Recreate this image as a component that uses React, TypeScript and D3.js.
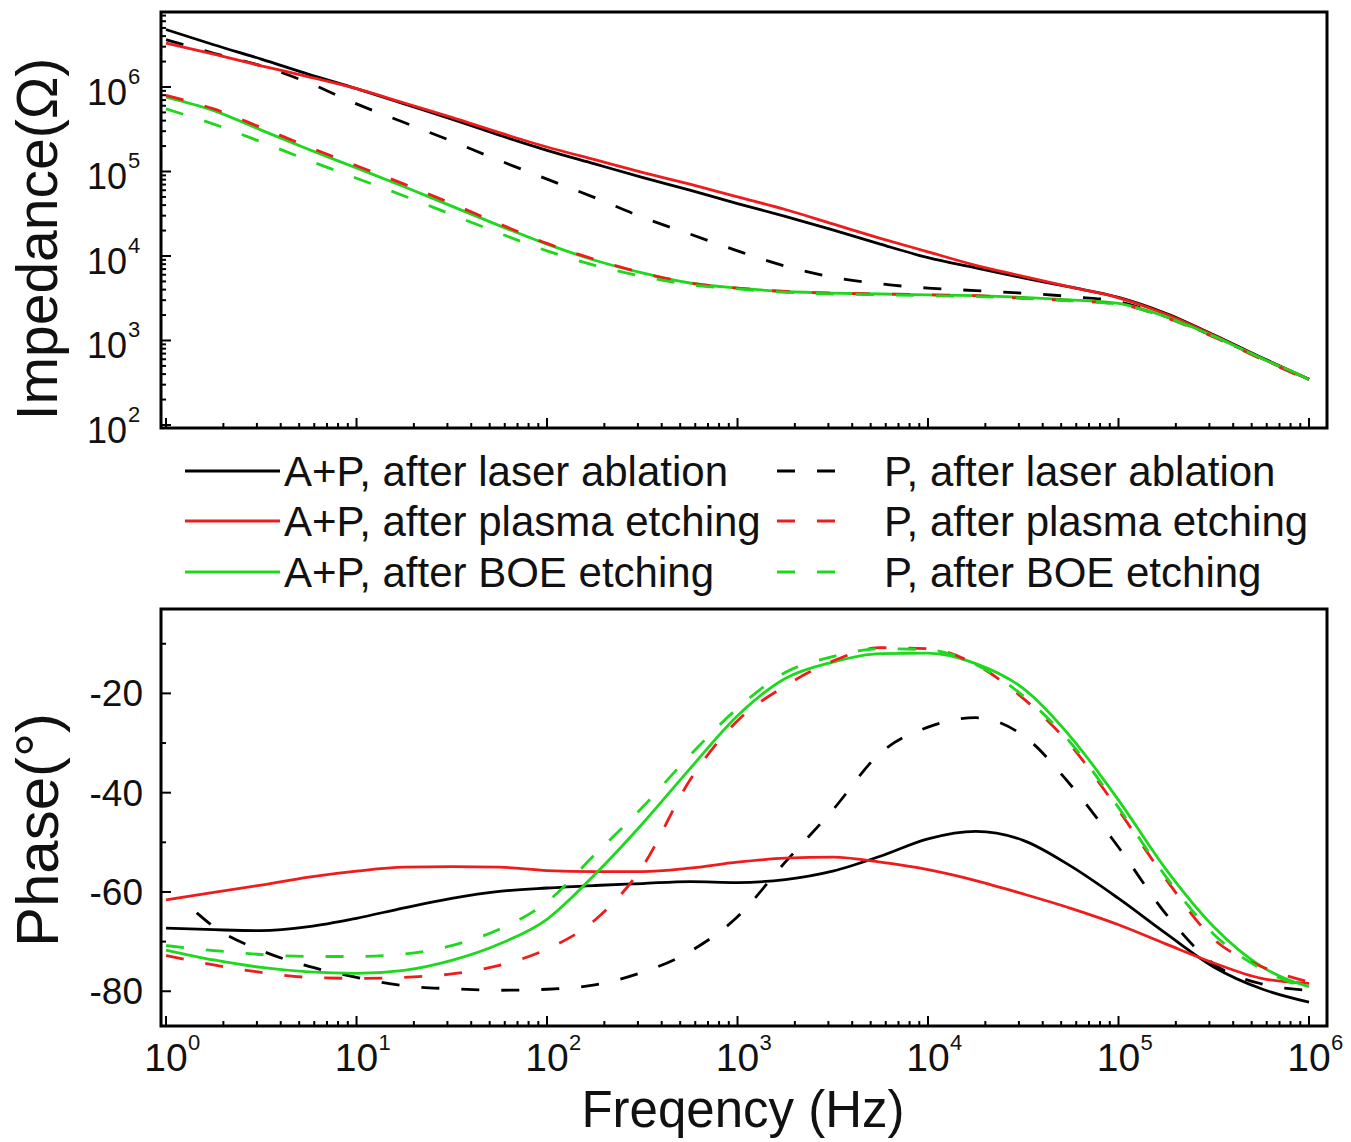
import React from "react";
import * as d3 from "d3";

// ---------- data ----------
const FREQ = [1, 1.78, 3.16, 5.62, 10, 17.8, 31.6, 56.2, 100, 178, 316, 562, 1000, 1780, 3160, 5620, 1e4, 1.78e4, 3.16e4, 5.62e4, 1e5, 1.78e5, 3.16e5, 5.62e5, 1e6];
const FREQ_P_LASER_PHASE = [1.45, 1.78, 3.16, 5.62, 10, 17.8, 31.6, 56.2, 100, 178, 316, 562, 1000, 1780, 3160, 5620, 1e4, 1.78e4, 3.16e4, 5.62e4, 1e5, 1.78e5, 3.16e5, 5.62e5, 1e6];

// impedance (Ohm)
const Z_AP_LASER = [4.79e6, 3.16e6, 2.14e6, 1.41e6, 9.55e5, 6.31e5, 4.17e5, 2.69e5, 1.78e5, 1.23e5, 8.51e4, 6.03e4, 4.17e4, 2.95e4, 2.04e4, 1.38e4, 9.55e3, 7.24e3, 5.5e3, 4.27e3, 3.24e3, 2.09e3, 1.17e3, 630, 347];
const Z_AP_PLASMA = [3.31e6, 2.45e6, 1.78e6, 1.32e6, 9.55e5, 6.46e5, 4.37e5, 2.88e5, 1.95e5, 1.38e5, 9.77e4, 7.08e4, 5.01e4, 3.55e4, 2.4e4, 1.62e4, 1.12e4, 7.76e3, 5.75e3, 4.27e3, 3.2e3, 2.04e3, 1.15e3, 617, 347];
const Z_AP_BOE = [7.59e5, 5.25e5, 3.09e5, 1.82e5, 1.1e5, 6.61e4, 3.89e4, 2.29e4, 1.38e4, 8.91e3, 6.31e3, 4.79e3, 4.17e3, 3.8e3, 3.63e3, 3.55e3, 3.47e3, 3.39e3, 3.24e3, 3.02e3, 2.75e3, 1.91e3, 1.12e3, 617, 347];
const Z_P_LASER = [3.63e6, 2.51e6, 1.78e6, 1.12e6, 6.31e5, 3.8e5, 2.29e5, 1.35e5, 8.13e4, 4.9e4, 2.88e4, 1.82e4, 1.15e4, 7.59e3, 5.62e3, 4.68e3, 4.17e3, 3.89e3, 3.63e3, 3.31e3, 2.88e3, 1.91e3, 1.12e3, 617, 347];
const Z_P_PLASMA = [7.94e5, 5.5e5, 3.31e5, 1.95e5, 1.17e5, 7.08e4, 4.17e4, 2.4e4, 1.41e4, 9.12e3, 6.31e3, 4.79e3, 4.17e3, 3.8e3, 3.63e3, 3.55e3, 3.47e3, 3.39e3, 3.16e3, 2.95e3, 2.69e3, 1.86e3, 1.1e3, 603, 339];
const Z_P_BOE = [5.5e5, 3.63e5, 2.24e5, 1.35e5, 8.32e4, 5.13e4, 3.09e4, 1.86e4, 1.15e4, 7.76e3, 5.75e3, 4.57e3, 4.07e3, 3.72e3, 3.55e3, 3.47e3, 3.39e3, 3.31e3, 3.16e3, 2.95e3, 2.69e3, 1.86e3, 1.12e3, 617, 355];

// phase (degree)
const PH_AP_LASER = [-67.3, -67.6, -67.8, -67.0, -65.3, -63.2, -61.3, -59.9, -59.2, -58.7, -58.3, -57.9, -58.1, -57.5, -55.8, -52.8, -49.3, -47.8, -49.6, -54.8, -61.3, -68.4, -75.1, -79.5, -82.2];
const PH_AP_PLASMA = [-61.6, -60.1, -58.6, -57.0, -55.8, -55.0, -54.9, -55.0, -55.7, -55.9, -55.9, -55.2, -54.0, -53.2, -53.0, -54.0, -55.5, -57.7, -60.4, -63.3, -66.6, -70.5, -74.3, -77.4, -78.4];
const PH_AP_BOE = [-71.7, -73.7, -75.2, -76.1, -76.4, -75.8, -73.8, -70.5, -65.5, -56.5, -46.3, -35.2, -24.5, -17.0, -13.7, -12.0, -11.9, -14.0, -19.0, -28.8, -41.5, -55.5, -67.0, -75.0, -79.1];
const PH_P_LASER = [-64.2, -67.0, -71.8, -75.0, -77.2, -78.9, -79.5, -79.8, -79.6, -78.7, -76.2, -72.0, -65.0, -54.0, -43.5, -32.0, -26.8, -24.9, -28.5, -38.5, -51.0, -64.5, -74.5, -78.5, -79.8];
const PH_P_PLASMA = [-72.8, -74.7, -76.2, -77.2, -77.4, -77.2, -76.5, -74.8, -71.5, -65.7, -55.0, -37.5, -25.5, -18.5, -13.5, -10.8, -11.0, -14.2, -21.0, -30.5, -43.5, -57.5, -69.5, -75.0, -78.1];
const PH_P_BOE = [-70.8, -71.8, -72.6, -73.0, -73.0, -72.5, -70.8, -67.5, -62.0, -52.5, -43.0, -32.5, -23.0, -15.8, -12.6, -11.0, -11.2, -14.2, -20.5, -30.0, -43.0, -57.0, -68.5, -75.5, -79.5];

// ticks & labels
const X_MAJOR = [1, 10, 100, 1000, 1e4, 1e5, 1e6];
const X_EXP = ["0", "1", "2", "3", "4", "5", "6"];
const YT_MAJOR = [1e2, 1e3, 1e4, 1e5, 1e6];
const YT_EXP = ["2", "3", "4", "5", "6"];
const YB_MAJOR = [-20, -40, -60, -80];
const YB_MINOR = [-10, -30, -50, -70];

const LEGEND_AP = ["A+P, after laser ablation", "A+P, after plasma etching", "A+P, after BOE etching"];
const LEGEND_P = ["P, after laser ablation", "P, after plasma etching", "P, after BOE etching"];
const COLORS = ["#000000", "#ee1c1c", "#1ed81e"];

const FONT = "'Liberation Sans', Arial, Helvetica, sans-serif";

export default function App() {
  const x = d3.scaleLog().domain([0.941, 1.243e6]).range([161, 1327]);
  const yT = d3.scaleLog().domain([92.1, 7.72e6]).range([428, 12]);
  const yB = d3.scaleLinear().domain([-87, -3]).range([1026, 609]);

  const lineT = (fs: number[], vs: number[]) =>
    d3.line<number>().x((_, i) => x(fs[i])).y((v) => yT(v)).curve(d3.curveMonotoneX)(vs) || "";
  const lineB = (fs: number[], vs: number[]) =>
    d3.line<number>().x((_, i) => x(fs[i])).y((v) => yB(v)).curve(d3.curveMonotoneX)(vs) || "";

  const xMinor: number[] = [];
  for (let d = 0; d < 6; d++) for (let m = 2; m <= 9; m++) xMinor.push(m * Math.pow(10, d));
  const ytMinor: number[] = [];
  for (let d = 2; d <= 6; d++) for (let m = 2; m <= 9; m++) {
    const v = m * Math.pow(10, d);
    if (v < 7.72e6) ytMinor.push(v);
  }

  const DASH = "18 22";
  const SW = 2.8;

  const topSeries = [
    { v: Z_AP_LASER, c: COLORS[0], d: false },
    { v: Z_P_LASER, c: COLORS[0], d: true },
    { v: Z_AP_PLASMA, c: COLORS[1], d: false },
    { v: Z_AP_BOE, c: COLORS[2], d: false },
    { v: Z_P_PLASMA, c: COLORS[1], d: true },
    { v: Z_P_BOE, c: COLORS[2], d: true },
  ];
  const botSeries = [
    { f: FREQ, v: PH_AP_LASER, c: COLORS[0], d: false },
    { f: FREQ_P_LASER_PHASE, v: PH_P_LASER, c: COLORS[0], d: true },
    { f: FREQ, v: PH_AP_PLASMA, c: COLORS[1], d: false },
    { f: FREQ, v: PH_AP_BOE, c: COLORS[2], d: false },
    { f: FREQ, v: PH_P_PLASMA, c: COLORS[1], d: true },
    { f: FREQ, v: PH_P_BOE, c: COLORS[2], d: true },
  ];

  const xTicks = (y0: number) => (
    <g stroke="#000" strokeWidth={2}>
      {X_MAJOR.map((t) => (
        <line key={"M" + t} x1={x(t)} x2={x(t)} y1={y0} y2={y0 - 10} />
      ))}
      {xMinor.map((t) => (
        <line key={"m" + t} x1={x(t)} x2={x(t)} y1={y0} y2={y0 - 5} />
      ))}
    </g>
  );

  const legendRows = [471, 521, 572];

  return (
    <svg
      width={1351}
      height={1142}
      style={{ position: "absolute", left: 0, top: 0, display: "block", background: "#fff" }}
      fontFamily={FONT}
    >
      <rect x={0} y={0} width={1351} height={1142} fill="#fff" />

      {/* ---------- top panel ---------- */}
      <g>
        {topSeries.map((s, i) => (
          <path
            key={i}
            d={lineT(FREQ, s.v)}
            fill="none"
            stroke={s.c}
            strokeWidth={SW}
            strokeDasharray={s.d ? DASH : undefined}
          />
        ))}
        {xTicks(428)}
        <g stroke="#000" strokeWidth={2}>
          {YT_MAJOR.map((t) => (
            <line key={"M" + t} x1={161} x2={171} y1={yT(t)} y2={yT(t)} />
          ))}
          {ytMinor.map((t) => (
            <line key={"m" + t} x1={161} x2={166} y1={yT(t)} y2={yT(t)} />
          ))}
        </g>
        <rect x={161} y={12} width={1166} height={416} fill="none" stroke="#000" strokeWidth={3} />
        {YT_MAJOR.map((t, i) => (
          <g key={"yl" + t} fill="#111">
            <text x={127} y={yT(t) + 18} fontSize={36} textAnchor="end">10</text>
            <text x={128} y={yT(t) - 3} fontSize={22}>{YT_EXP[i]}</text>
          </g>
        ))}
        <text transform="translate(57,239) rotate(-90)" fontSize={57} textAnchor="middle" fill="#111">
          Impedance(Ω)
        </text>
      </g>

      {/* ---------- legend ---------- */}
      <g>
        {legendRows.map((yy, i) => (
          <g key={"lg" + i}>
            <line x1={185} x2={280} y1={yy} y2={yy} stroke={COLORS[i]} strokeWidth={3} />
            <text x={284} y={yy + 15} fontSize={42} fill="#111">{LEGEND_AP[i]}</text>
            <line x1={777} x2={837} y1={yy} y2={yy} stroke={COLORS[i]} strokeWidth={3} strokeDasharray={DASH} />
            <text x={884} y={yy + 15} fontSize={42} fill="#111">{LEGEND_P[i]}</text>
          </g>
        ))}
      </g>

      {/* ---------- bottom panel ---------- */}
      <g>
        {botSeries.map((s, i) => (
          <path
            key={i}
            d={lineB(s.f, s.v)}
            fill="none"
            stroke={s.c}
            strokeWidth={SW}
            strokeDasharray={s.d ? DASH : undefined}
          />
        ))}
        {xTicks(1026)}
        <g stroke="#000" strokeWidth={2}>
          {YB_MAJOR.map((t) => (
            <line key={"M" + t} x1={161} x2={171} y1={yB(t)} y2={yB(t)} />
          ))}
          {YB_MINOR.map((t) => (
            <line key={"m" + t} x1={161} x2={166} y1={yB(t)} y2={yB(t)} />
          ))}
        </g>
        <rect x={161} y={609} width={1166} height={417} fill="none" stroke="#000" strokeWidth={3} />
        {YB_MAJOR.map((t) => (
          <text key={"yb" + t} x={143} y={yB(t) + 13} fontSize={37} textAnchor="end" fill="#111">
            {t}
          </text>
        ))}
        {X_MAJOR.map((t, i) => (
          <g key={"xl" + t} fill="#111">
            <text x={x(t)} y={1071} fontSize={39} textAnchor="middle">10</text>
            <text x={x(t) + 22} y={1050} fontSize={22}>{X_EXP[i]}</text>
          </g>
        ))}
        <text transform="translate(58,830) rotate(-90)" fontSize={60} textAnchor="middle" fill="#111">
          Phase(°)
        </text>
        <text x={743} y={1127} fontSize={51} textAnchor="middle" fill="#111">
          Freqency (Hz)
        </text>
      </g>
    </svg>
  );
}
